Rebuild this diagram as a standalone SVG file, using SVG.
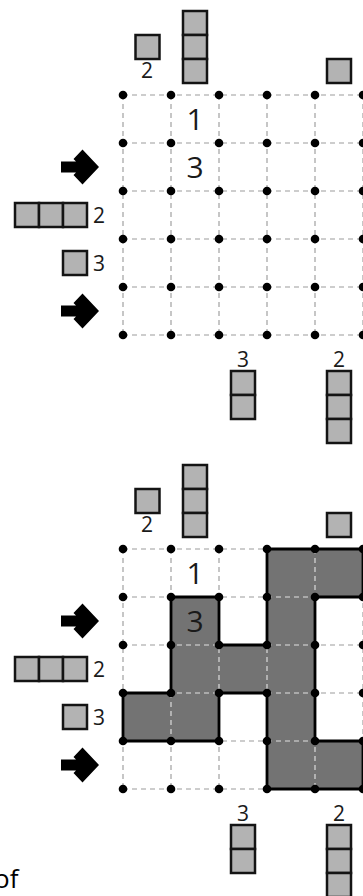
<svg xmlns="http://www.w3.org/2000/svg" xmlns:xlink="http://www.w3.org/1999/xlink" width="363" height="896" viewBox="0 0 363 896">
<style>
.bg{fill:#ffffff}
.grid{stroke:#bdbdbd;stroke-width:1.7;stroke-dasharray:5 4;fill:none}
.dot{fill:#000000}
.box{fill:#b3b3b3;stroke:#141414;stroke-width:2.5}
.shade{fill:#737373;stroke:none}
.outline{fill:none;stroke:#000000;stroke-width:2.8;stroke-linejoin:round}
.big{font-family:"Open Sans","DejaVu Sans",sans-serif;font-size:30px;fill:#1a1a1a;text-anchor:middle}
.small{font-family:"Open Sans","DejaVu Sans",sans-serif;font-size:21px;fill:#1a1a1a;text-anchor:middle}
.txt{font-family:"Open Sans","DejaVu Sans",sans-serif;font-size:26px;fill:#000000}
.arrow{fill:#000000}
</style>
<defs>
<path id="arrow" d="M61,161.5 H76 L73.5,159 L82.5,149.5 L99,167 L82.5,184.5 L73.5,175 L76,172.5 H61 Z"/>
<g id="gridlines">
<path class="grid" d="M123,95 H366 M123,143 H366 M123,191 H366 M123,239 H366 M123,287 H366 M123,335 H366 M123,95 V335 M171,95 V335 M219,95 V335 M267,95 V335 M315,95 V335 M363,95 V335"/>
</g>
<g id="dots">
<circle class="dot" cx="123" cy="95" r="4.3"/><circle class="dot" cx="171" cy="95" r="4.3"/><circle class="dot" cx="219" cy="95" r="4.3"/><circle class="dot" cx="267" cy="95" r="4.3"/><circle class="dot" cx="315" cy="95" r="4.3"/><circle class="dot" cx="363" cy="95" r="4.3"/>
<circle class="dot" cx="123" cy="143" r="4.3"/><circle class="dot" cx="171" cy="143" r="4.3"/><circle class="dot" cx="219" cy="143" r="4.3"/><circle class="dot" cx="267" cy="143" r="4.3"/><circle class="dot" cx="315" cy="143" r="4.3"/><circle class="dot" cx="363" cy="143" r="4.3"/>
<circle class="dot" cx="123" cy="191" r="4.3"/><circle class="dot" cx="171" cy="191" r="4.3"/><circle class="dot" cx="219" cy="191" r="4.3"/><circle class="dot" cx="267" cy="191" r="4.3"/><circle class="dot" cx="315" cy="191" r="4.3"/><circle class="dot" cx="363" cy="191" r="4.3"/>
<circle class="dot" cx="123" cy="239" r="4.3"/><circle class="dot" cx="171" cy="239" r="4.3"/><circle class="dot" cx="219" cy="239" r="4.3"/><circle class="dot" cx="267" cy="239" r="4.3"/><circle class="dot" cx="315" cy="239" r="4.3"/><circle class="dot" cx="363" cy="239" r="4.3"/>
<circle class="dot" cx="123" cy="287" r="4.3"/><circle class="dot" cx="171" cy="287" r="4.3"/><circle class="dot" cx="219" cy="287" r="4.3"/><circle class="dot" cx="267" cy="287" r="4.3"/><circle class="dot" cx="315" cy="287" r="4.3"/><circle class="dot" cx="363" cy="287" r="4.3"/>
<circle class="dot" cx="123" cy="335" r="4.3"/><circle class="dot" cx="171" cy="335" r="4.3"/><circle class="dot" cx="219" cy="335" r="4.3"/><circle class="dot" cx="267" cy="335" r="4.3"/><circle class="dot" cx="315" cy="335" r="4.3"/><circle class="dot" cx="363" cy="335" r="4.3"/>
</g>
<g id="clues">
<rect class="box" x="135.5" y="35" width="24" height="24"/>
<text class="small" x="147" y="78">2</text>
<rect class="box" x="183" y="11" width="24" height="24"/>
<rect class="box" x="183" y="35" width="24" height="24"/>
<rect class="box" x="183" y="59" width="24" height="24"/>
<rect class="box" x="327" y="59" width="24" height="24"/>
<use xlink:href="#arrow" class="arrow"/>
<use xlink:href="#arrow" class="arrow" y="144"/>
<rect class="box" x="15" y="203" width="24" height="24"/>
<rect class="box" x="39" y="203" width="24" height="24"/>
<rect class="box" x="63" y="203" width="24" height="24"/>
<text class="small" x="99" y="222.5">2</text>
<rect class="box" x="63" y="251" width="24" height="24"/>
<text class="small" x="99" y="270.5">3</text>
<text class="small" x="243" y="367">3</text>
<rect class="box" x="231" y="371" width="24" height="24"/>
<rect class="box" x="231" y="395" width="24" height="24"/>
<text class="small" x="339" y="367">2</text>
<rect class="box" x="327" y="371" width="24" height="24"/>
<rect class="box" x="327" y="395" width="24" height="24"/>
<rect class="box" x="327" y="419" width="24" height="24"/>
</g>
</defs>
<rect class="bg" x="0" y="0" width="363" height="896"/>

<g id="puzzle">
<use xlink:href="#gridlines"/>
<use xlink:href="#clues"/>
<text class="big" x="195" y="130">1</text>
<text class="big" x="195" y="178">3</text>
<use xlink:href="#dots"/>
</g>

<g id="solution" transform="translate(0,454)">
<path class="shade" d="M267,95 H363 V143 H315 V287 H363 V335 H267 V239 H219 V287 H123 V239 H171 V143 H219 V191 H267 Z"/>
<use xlink:href="#gridlines"/>
<path class="outline" d="M267,95 H363 V143 H315 V287 H363 V335 H267 V239 H219 V287 H123 V239 H171 V143 H219 V191 H267 Z"/>
<use xlink:href="#clues"/>
<text class="big" x="195" y="130">1</text>
<text class="big" x="195" y="178">3</text>
<use xlink:href="#dots"/>
</g>

<text class="txt" x="-6" y="888">of</text>
</svg>
